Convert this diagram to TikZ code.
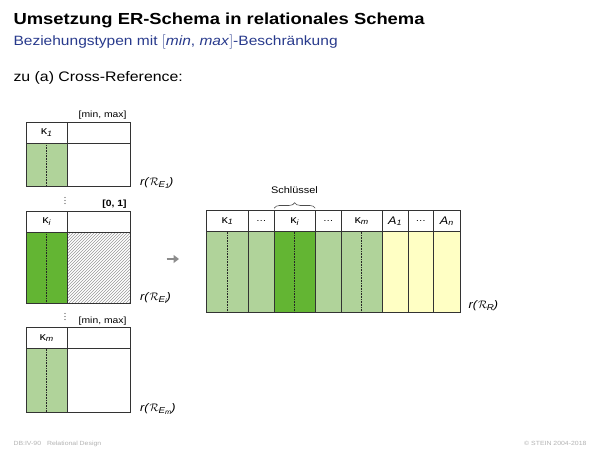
\documentclass[tikz,border=0pt]{standalone}
\usepackage{amsmath,amssymb}
\usepackage{fontspec}
\setmainfont{Liberation Sans}[FakeStretch=1.15]
\usepackage{xcolor}
\usepackage{tikz}
\usetikzlibrary{positioning, arrows.meta, patterns, decorations.pathreplacing}

\definecolor{keylight}{RGB}{176,211,154}
\definecolor{keydark}{RGB}{99,181,51}
\definecolor{attrfill}{RGB}{255,255,196}
\definecolor{subblue}{RGB}{40,58,140}

\newcommand{\kap}[1]{κ\textsubscript{\itshape #1}}
\newcommand{\rel}[2]{\textit{r(}$\mathcal{R}$\kern-0.5pt\raisebox{-0.35ex}{\fontsize{8.5}{9}\selectfont\itshape #1\raisebox{-0.3ex}{\fontsize{6.5}{7}\selectfont #2}}\textit{)}}

\begin{document}
\begin{tikzpicture}[x=1pt, y=-1pt,
  cell/.style={draw=black!80, line width=0.5pt, anchor=north west,
              inner sep=0pt, outer sep=0pt, font=\fontsize{11}{13}\selectfont},
  head/.style={cell, minimum height=21pt},
  keyline/.style={densely dotted, black!85, line width=0.6pt},
  vdotline/.style={line width=1.1pt, line cap=round, dash pattern=on 0pt off 3pt, black!70},
  card/.style={anchor=base east, font=\fontsize{9}{11}\selectfont},
  rellabel/.style={anchor=base west, font=\fontsize{11}{13}\selectfont},
  foot/.style={anchor=base, font=\fontsize{6}{7}\selectfont, text=gray!60},
  arr/.style={-{Triangle[length=5.5pt, width=8pt]}, line width=2.6pt, black!45}
]
  \useasboundingbox (0,0) rectangle (600,450);

  % Heading
  \node[anchor=base west, font=\fontsize{16}{19}\selectfont\bfseries] (title) at (10,24)
    {Umsetzung ER-Schema in relationales Schema};
  \node[anchor=base west, font=\fontsize{13.5}{16}\selectfont, text=subblue] (subtitle) at (10,45)
    {Beziehungstypen mit $[$\textit{min}, \textit{max}$]$-Beschränkung};
  \node[anchor=base west, font=\fontsize{13.8}{16}\selectfont] (intro) at (10,81)
    {zu (a) Cross-Reference:};

  % Table r(R_E1)
  \node[head, minimum width=41.3pt] (e1key) at (26,122.3) {\kap{1}};
  \node[head, minimum width=62.7pt] (e1rest) at (e1key.north east) {};
  \node[cell, fill=keylight, minimum width=41.3pt, minimum height=42.7pt] (e1keyb) at (e1key.south west) {};
  \node[cell, minimum width=62.7pt, minimum height=42.7pt] (e1restb) at (e1keyb.north east) {};
  \draw[keyline] (e1keyb.north) -- (e1keyb.south);
  \node[card] (e1card) at (130,117.7) {[min, max]};
  \node[rellabel] (e1rel) at (136.7,185) {\rel{E}{1}};

  \coordinate (dots1a) at (65,197.5);
  \coordinate (dots1b) at (65,204);
  \draw[vdotline] (dots1a) -- (dots1b);

  % Table r(R_Ei)
  \node[head, minimum width=41.3pt] (eikey) at (26,211.3) {\kap{i}};
  \node[head, minimum width=62.7pt] (eirest) at (eikey.north east) {};
  \node[cell, fill=keydark, minimum width=41.3pt, minimum height=70.7pt] (eikeyb) at (eikey.south west) {};
  \node[cell, pattern=north east lines, pattern color=gray!80, minimum width=62.7pt,
        minimum height=70.7pt] (eirestb) at (eikeyb.north east) {};
  \draw[keyline] (eikeyb.north) -- (eikeyb.south);
  \node[card, font=\fontsize{9}{11}\selectfont\bfseries] (eicard) at (130,206) {[0, 1]};
  \node[rellabel] (eirel) at (136.7,300) {\rel{E}{i}};

  \coordinate (dots2a) at (65,313.5);
  \coordinate (dots2b) at (65,320);
  \draw[vdotline] (dots2a) -- (dots2b);

  % Table r(R_Em)
  \node[head, minimum width=41.3pt] (emkey) at (26,327.7) {\kap{m}};
  \node[head, minimum width=62.7pt] (emrest) at (emkey.north east) {};
  \node[cell, fill=keylight, minimum width=41.3pt, minimum height=63.4pt] (emkeyb) at (emkey.south west) {};
  \node[cell, minimum width=62.7pt, minimum height=63.4pt] (emrestb) at (emkeyb.north east) {};
  \draw[keyline] (emkeyb.north) -- (emkeyb.south);
  \node[card] (emcard) at (130,323) {[min, max]};
  \node[rellabel] (emrel) at (136.7,411) {\rel{E}{m}};

  % Arrow
  \coordinate (arrfrom) at (166.5,259);
  \coordinate (arrto) at (179,259);
  \draw[arr] (arrfrom) -- (arrto);

  % Table r(R_R): header
  \node[head, minimum width=41.5pt] (rk1) at (206.7,210.7) {\kap{1}};
  \node[head, minimum width=26pt] (rd1) at (rk1.north east) {\small\dots};
  \node[head, minimum width=41pt] (rki) at (rd1.north east) {\kap{i}};
  \node[head, minimum width=26pt] (rd2) at (rki.north east) {\small\dots};
  \node[head, minimum width=41pt] (rkm) at (rd2.north east) {\kap{m}};
  \node[head, minimum width=25.6pt] (ra1) at (rkm.north east) {\textit{A}\textsubscript{\itshape 1}};
  \node[head, minimum width=25.8pt] (rd3) at (ra1.north east) {\small\dots};
  \node[head, minimum width=26.4pt] (ran) at (rd3.north east) {\textit{A}\textsubscript{\itshape n}};

  % Table r(R_R): body
  \node[cell, fill=keylight, minimum width=41.5pt, minimum height=80.6pt] (rk1b) at (rk1.south west) {};
  \node[cell, fill=keylight, minimum width=26pt, minimum height=80.6pt] (rd1b) at (rd1.south west) {};
  \node[cell, fill=keydark, minimum width=41pt, minimum height=80.6pt] (rkib) at (rki.south west) {};
  \node[cell, fill=keylight, minimum width=26pt, minimum height=80.6pt] (rd2b) at (rd2.south west) {};
  \node[cell, fill=keylight, minimum width=41pt, minimum height=80.6pt] (rkmb) at (rkm.south west) {};
  \node[cell, fill=attrfill, minimum width=25.6pt, minimum height=80.6pt] (ra1b) at (ra1.south west) {};
  \node[cell, fill=attrfill, minimum width=25.8pt, minimum height=80.6pt] (rd3b) at (rd3.south west) {};
  \node[cell, fill=attrfill, minimum width=26.4pt, minimum height=80.6pt] (ranb) at (ran.south west) {};
  \draw[keyline] (rk1b.north) -- (rk1b.south);
  \draw[keyline] (rkib.north) -- (rkib.south);
  \draw[keyline] (rkmb.north) -- (rkmb.south);
  \node[rellabel] (rrel) at (465,308) {\rel{R}{}};

  % Key brace
  \draw[black!70, line width=0.6pt, decorate, decoration={brace, amplitude=5.5pt}]
    ([yshift=2.5pt]rki.north west) -- ([yshift=2.5pt]rki.north east);
  \node[anchor=base, font=\fontsize{9.5}{11}\selectfont] (keytext) at (294.5,193.3) {Schlüssel};

  % Footer
  \node[foot, anchor=base west] (footl) at (10,445) {DB:IV-90\quad Relational Design};
  \node[foot, anchor=base east] (footr) at (590,445) {© STEIN 2004-2018};

\end{tikzpicture}
\end{document}
